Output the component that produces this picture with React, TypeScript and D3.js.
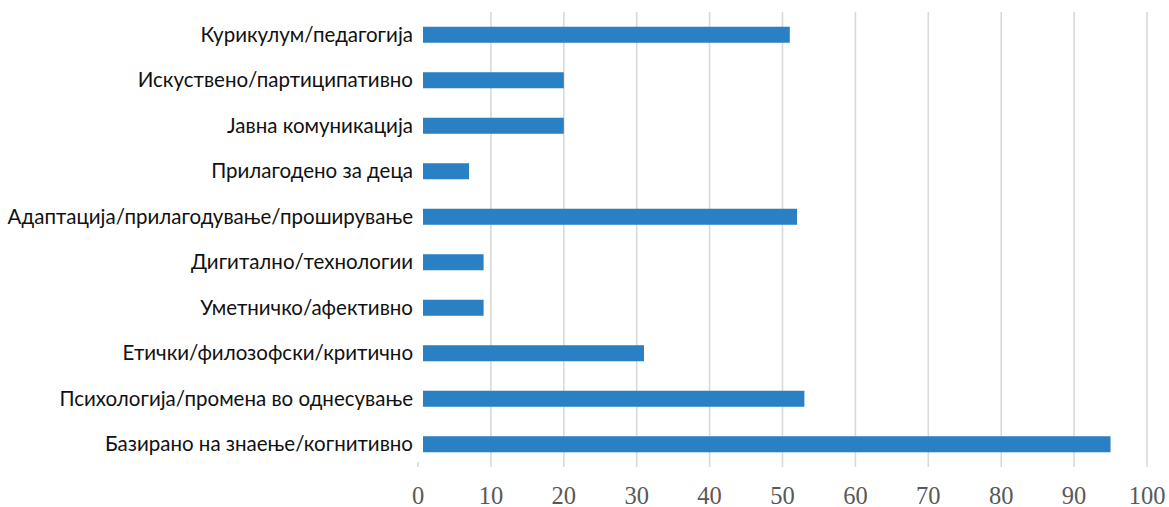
import React, { useEffect, useRef } from 'react';
import * as d3 from 'd3';

const categories = [
    'Курикулум/педагогија',
    'Искуствено/партиципативно',
    'Јавна комуникација',
    'Прилагодено за деца',
    'Адаптација/прилагодување/проширување',
    'Дигитално/технологии',
    'Уметничко/афективно',
    'Етички/филозофски/критично',
    'Психологија/промена во однесување',
    'Базирано на знаење/когнитивно',
];

const values = [51, 20, 20, 7, 52, 9, 9, 31, 53, 95];

const xTicks = [0, 10, 20, 30, 40, 50, 60, 70, 80, 90, 100];

const App: React.FC = () => {
    const svgRef = useRef<SVGSVGElement>(null);

    useEffect(() => {
        if (!svgRef.current) return;
        const width = 1169;
        const height = 507;

        const svg = d3.select(svgRef.current);
        svg.selectAll('*').remove();
        svg.attr('width', width).attr('height', height);

        const left = 418;
        const right = 1147;
        const top = 12;
        const bottom = 467;

        const x = d3.scaleLinear().domain([0, 100]).range([left, right]);
        const y = d3.scaleBand<string>()
            .domain(categories)
            .range([top, bottom])
            .paddingInner(0.648)
            .paddingOuter(0.324);

        // gridlines (no full line at zero, just a small stub)
        svg.append('g')
            .selectAll('line')
            .data(xTicks)
            .enter()
            .append('line')
            .attr('x1', d => x(d))
            .attr('x2', d => x(d))
            .attr('y1', d => (d === 0 ? bottom - 5 : top))
            .attr('y2', bottom)
            .attr('stroke', '#d9d9d9')
            .attr('stroke-width', 1.6);

        // bars
        const barGap = 5;
        svg.append('g')
            .selectAll('rect')
            .data(values)
            .enter()
            .append('rect')
            .attr('x', x(0) + barGap)
            .attr('y', (_, i) => y(categories[i]) || 0)
            .attr('width', d => x(d) - x(0) - barGap)
            .attr('height', y.bandwidth())
            .attr('fill', '#2a80c2');

        // category labels
        svg.append('g')
            .selectAll('text')
            .data(categories)
            .enter()
            .append('text')
            .attr('x', 413)
            .attr('y', d => (y(d) || 0) + y.bandwidth() / 2)
            .attr('dy', '0.35em')
            .attr('text-anchor', 'end')
            .style('font-family', 'Lato, "Open Sans", sans-serif')
            .style('font-size', '20.5px')
            .style('fill', '#111')
            .text(d => d);

        // tick labels
        svg.append('g')
            .selectAll('text')
            .data(xTicks)
            .enter()
            .append('text')
            .attr('x', d => x(d))
            .attr('y', 496)
            .attr('dy', '0.34em')
            .attr('text-anchor', 'middle')
            .style('font-family', '"Liberation Serif", "DejaVu Serif", serif')
            .style('font-size', '24.5px')
            .style('fill', '#595959')
            .text(d => d);
    }, []);

    return (
        <svg
            ref={svgRef}
            style={{ position: 'absolute', left: 0, top: 0, background: '#fff' }}
        />
    );
};

export default App;
